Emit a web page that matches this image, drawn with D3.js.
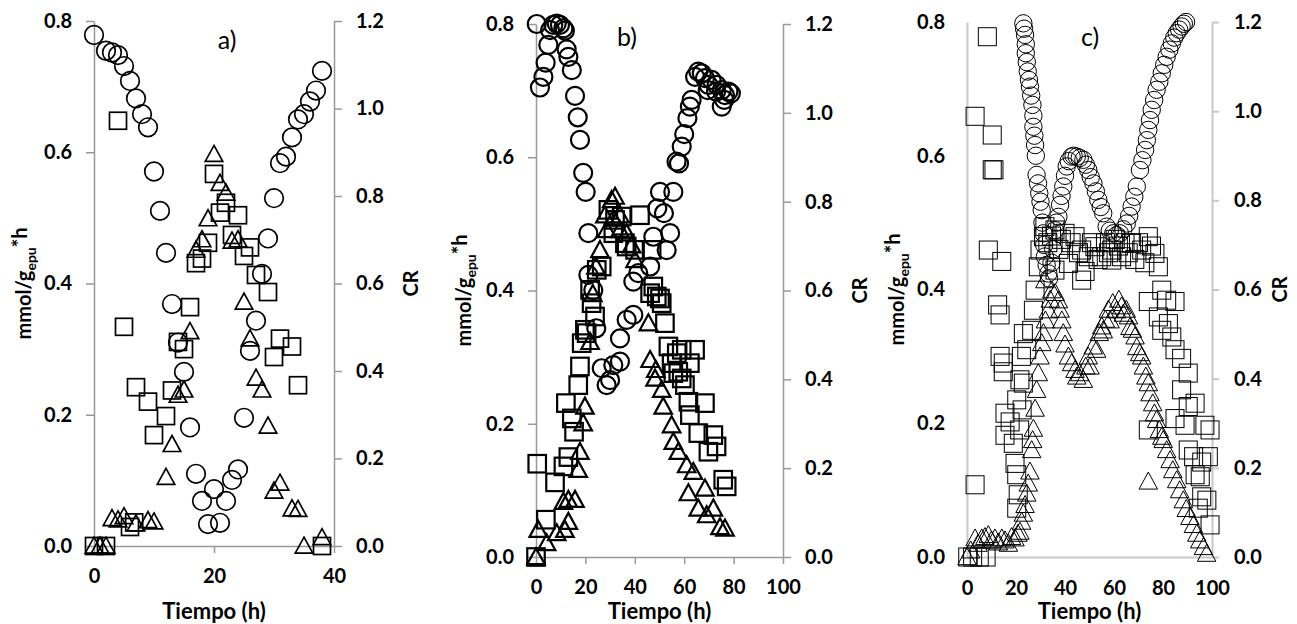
<!DOCTYPE html>
<html>
<head>
<meta charset="utf-8">
<script src="https://cdn.jsdelivr.net/npm/d3@7"></script>
<style>
  body { margin: 0; background: #fff; }
  svg { display: block; font-family: Lato, 'Open Sans', sans-serif; }
</style>
</head>
<body>
<svg id="chart" width="1297" height="624"></svg>
<script>
// ---- tick labels ----
const xTicksA = [0, 20, 40];
const xTicksBC = [0, 20, 40, 60, 80, 100];
const yLeftTicks = [0, 0.2, 0.4, 0.6, 0.8];
const yRightTicks = [0, 0.2, 0.4, 0.6, 0.8, 1.0, 1.2];

// ---- panel a) : [tiempo (h), valor] ----
const aCR = [[0,1.168],[2,1.132],[3,1.128],[4,1.122],[5,1.097],[6,1.063],[7,1.023],[8,0.987],[9,0.957],[10,0.856],
  [11,0.766],[12,0.670],[13,0.553],[14,0.465],[15,0.398],[16,0.271],[17,0.165],[18,0.103],[19,0.050],[20,0.130],
  [21,0.053],[22,0.103],[23,0.151],[24,0.175],[25,0.293],[26,0.446],[27,0.515],[28,0.622],[29,0.703],[30,0.795],
  [31,0.875],[32,0.890],[33,0.934],[34,0.975],[35,0.987],[36,1.016],[37,1.041],[38,1.086]];
const aSq = [[0,0],[2,0],[4,0.648],[5,0.334],[6,0.029],[6.7,0.036],[7,0.242],[9,0.220],[10,0.169],[12,0.198],[13,0.237],
  [14,0.311],[15,0.300],[16,0.364],[17,0.431],[18,0.438],[19,0.462],[20,0.567],[21,0.508],[22,0.523],[23,0.474],
  [24,0.504],[25,0.442],[26,0.455],[27,0.413],[29,0.387],[30,0.288],[31,0.316],[33,0.304],[34,0.245],[38,0]];
const aTri = [[0,0],[1,0],[2,0],[3,0.042],[4,0.040],[5,0.045],[7,0.034],[9,0.039],[10,0.037],[12,0.105],[13,0.155],
  [14,0.230],[15,0.238],[16,0.327],[17,0.451],[18,0.467],[19,0.499],[20,0.597],[21,0.553],[22,0.538],[23,0.465],
  [24,0.467],[25,0.372],[26,0.316],[27,0.256],[28,0.238],[29,0.183],[30,0.084],[31,0.096],[33,0.057],[34,0.056],
  [35,0],[38,0.013]];

// ---- panel b) ----
const bCR = [[0.3,1.200],[1.6,1.057],[3,1.081],[3.9,1.113],[5,1.153],[5.7,1.186],[7,1.198],[8.4,1.201],[9.7,1.198],
  [11.1,1.190],[11.7,1.185],[12.4,1.143],[13.1,1.126],[14.5,1.096],[15.8,1.038],[16.9,0.990],[17.8,0.939],
  [19.1,0.865],[20.1,0.822],[21.2,0.729],[21.2,0.635],[23.2,0.601],[24.4,0.515],[26.6,0.425],[28.6,0.387],
  [30,0.398],[31.3,0.432],[34,0.440],[34,0.492],[36.7,0.534],[39.4,0.545],[39.4,0.620],[41.4,0.639],[46.2,0.654],
  [47.5,0.721],[49.1,0.785],[50.2,0.822],[51.8,0.774],[52.9,0.691],[54.3,0.729],[55.6,0.822],[56.9,0.890],
  [57.9,0.886],[59,0.924],[60,0.952],[61.3,0.988],[62.3,1.014],[63,1.029],[64.4,1.081],[65.7,1.093],[67.1,1.089],
  [68.4,1.078],[69.5,1.051],[69.8,1.063],[71.1,1.074],[72.9,1.048],[73.1,1.063],[75.2,1.051],[75.2,1.014],
  [76.2,1.029],[76.5,1.040],[77.9,1.048],[78.9,1.044]];
const bSq = [[0,0],[0.5,0.140],[4,0.056],[7.7,0.112],[11.1,0.136],[13.1,0.150],[12.1,0.231],[14.5,0.208],[15.4,0.188],
  [17.1,0.258],[17.8,0.286],[18.5,0.321],[19.8,0.341],[20.5,0.336],[21.9,0.401],[22.5,0.381],[23.9,0.361],
  [24.6,0.431],[26.6,0.436],[29.3,0.521],[31.3,0.486],[32,0.506],[34.7,0.511],[36,0.471],[36.7,0.466],[40.1,0.461],
  [42.1,0.513],[46.2,0.396],[46.8,0.461],[47.5,0.406],[48.9,0.391],[50.2,0.388],[50.9,0.381],[52.2,0.351],
  [53.6,0.316],[54.9,0.291],[55.6,0.276],[57,0.306],[57.6,0.278],[59,0.311],[59,0.268],[60.3,0.258],[61.7,0.233],
  [62.3,0.291],[62.3,0.213],[64.4,0.311],[65.7,0.186],[68.4,0.231],[69.8,0.158],[71.8,0.183],[73.1,0.166],
  [75.8,0.116],[77.2,0.106]];
const bTri = [[0,0],[0.9,0.041],[4.3,0.021],[8.4,0.036],[11.7,0.041],[13.1,0.053],[11.1,0.083],[13.1,0.086],
  [15.8,0.086],[17.1,0.131],[17.8,0.158],[19.1,0.201],[19.8,0.226],[21.9,0.323],[23,0.395],[24.3,0.436],
  [25.9,0.461],[27.9,0.513],[28.6,0.491],[30.6,0.536],[31.3,0.508],[32,0.541],[34,0.513],[34,0.491],[36.7,0.486],
  [38.7,0.468],[40.1,0.446],[45.5,0.351],[46.2,0.296],[48.2,0.268],[48.5,0.281],[50.9,0.251],[51.5,0.226],
  [54.9,0.198],[55.6,0.173],[57.6,0.158],[61,0.138],[61.7,0.096],[63.7,0.128],[65.7,0.073],[68.4,0.103],
  [69.1,0.063],[71.8,0.073],[74.5,0.045],[76.5,0.043]];

// ---- panel c) ----
const cCR = [[23,1.197],[23.3,1.185],[23.7,1.171],[24,1.150],[24,1.130],[24.4,1.110],[24.8,1.089],[25.3,1.070],
  [25.7,1.055],[26.2,1.035],[26.7,1.014],[27.1,0.990],[27.1,0.965],[27.5,0.945],[27.8,0.924],[28.1,0.900],
  [28.4,0.857],[29,0.838],[29.5,0.816],[30,0.797],[30.5,0.778],[30.8,0.750],[31.2,0.726],[31.5,0.700],
  [31.8,0.674],[32.5,0.655],[33.2,0.636],[33.5,0.625],[34.5,0.660],[35.2,0.690],[35.9,0.733],[36.5,0.750],
  [37.3,0.763],[38,0.790],[38.6,0.810],[39.3,0.831],[40,0.855],[40.7,0.876],[41.5,0.888],[42.7,0.898],
  [43.5,0.900],[44.8,0.898],[46,0.895],[47.5,0.891],[48.5,0.880],[49.5,0.868],[50.5,0.852],[51.6,0.838],
  [52.6,0.820],[53.6,0.801],[54.6,0.785],[55.6,0.771],[57,0.741],[58.3,0.732],[59.7,0.726],[61,0.722],
  [62.4,0.726],[63.8,0.735],[65.2,0.748],[66.2,0.765],[67.2,0.786],[68.3,0.808],[69.3,0.831],[70.6,0.868],
  [71.6,0.890],[72.7,0.913],[73.4,0.935],[74,0.958],[74.7,0.980],[75.4,1.003],[76.4,1.025],[77.4,1.048],
  [78.5,1.066],[79.5,1.085],[80.5,1.104],[81.5,1.122],[82.6,1.138],[83.6,1.152],[84.6,1.165],[85.6,1.175],
  [86.6,1.183],[87.6,1.190],[88.5,1.196],[89.4,1.200]];
const cSq = [[0.3,0],[2.3,0],[5,0],[7.8,0],[3.3,0.108],[3.3,0.659],[8.3,0.778],[10.3,0.631],[10.3,0.579],[11,0.579],
  [8.7,0.459],[14.2,0.442],[12.5,0.377],[13.5,0.362],[13.5,0.300],[14.8,0.290],[14.8,0.277],[15.5,0.215],
  [17.6,0.202],[15.5,0.182],[18.9,0.170],[19.6,0.140],[20.3,0.123],[20.9,0.093],[20.3,0.073],[21.5,0.190],
  [20.3,0.235],[21.6,0.265],[22.2,0.300],[23,0.334],[22.5,0.220],[23,0.260],[24.4,0.310],[26.4,0.339],[27.1,0.369],
  [27.8,0.399],[29.1,0.434],[29.8,0.459],[31.2,0.479],[31.8,0.494],[33,0.470],[34.5,0.480],[35.9,0.489],
  [35.9,0.429],[37.5,0.460],[38.5,0.475],[40,0.484],[41.4,0.439],[42.5,0.470],[44.1,0.479],[45.5,0.455],
  [46.8,0.459],[46.8,0.414],[48.2,0.427],[49.5,0.449],[50.8,0.470],[52.2,0.464],[53.5,0.445],[55,0.449],
  [56.5,0.470],[57.8,0.455],[59.1,0.459],[59.1,0.444],[60.5,0.475],[61.8,0.465],[63.1,0.449],[64.5,0.470],
  [65.8,0.455],[67.2,0.469],[68.5,0.445],[70,0.470],[71.3,0.459],[72.6,0.440],[74,0.479],[75.3,0.465],
  [76.7,0.454],[78.1,0.434],[79.5,0.399],[81.5,0.384],[74,0.382],[84.9,0.382],[78.1,0.359],[82.2,0.349],
  [79.5,0.339],[83.6,0.329],[84.9,0.310],[87.6,0.297],[90.3,0.275],[74,0.190],[87.6,0.250],[90.3,0.225],
  [93.1,0.230],[89,0.197],[97.1,0.197],[84.9,0.207],[90.3,0.160],[95.8,0.142],[93.1,0.123],[95.8,0.090],
  [94.4,0.073],[99.2,0.048],[99.2,0.190],[98.5,0.150],[92.5,0.150],[95.2,0.120],[97.9,0.085]];
const cTri = [[0,0],[1.5,0.010],[3.3,0.028],[4.5,0.020],[6,0.028],[7.3,0.030],[8.7,0.033],[10,0.025],[11.4,0.028],
  [12.8,0.022],[14.2,0.028],[15.5,0.025],[16.9,0.020],[18.2,0.030],[19.6,0.028],[20.8,0.035],[21.6,0.038],
  [22.3,0.053],[23,0.065],[23.7,0.078],[24.4,0.095],[25,0.110],[25.7,0.128],[26.4,0.160],[26.8,0.175],
  [27.1,0.192],[27.8,0.222],[28.4,0.250],[29.1,0.275],[29.8,0.300],[30.5,0.320],[31.2,0.335],[32,0.354],
  [33.2,0.369],[34,0.385],[34.6,0.399],[31.8,0.414],[36,0.395],[37.3,0.384],[38,0.370],[38.7,0.354],
  [39.3,0.335],[40,0.318],[41.4,0.300],[42.7,0.290],[44.1,0.280],[44.8,0.270],[46,0.275],[47.5,0.265],
  [48.5,0.285],[49.5,0.300],[50.2,0.285],[51.5,0.315],[52.9,0.310],[54,0.335],[55,0.345],[55.6,0.339],
  [56.5,0.355],[57.7,0.370],[58.4,0.354],[59.5,0.380],[61.1,0.369],[62,0.385],[63.1,0.375],[63.8,0.364],
  [65,0.370],[65.9,0.360],[66.5,0.344],[67.5,0.340],[68.6,0.330],[69.3,0.314],[70.5,0.305],[71.3,0.300],
  [72,0.285],[73,0.270],[74,0.260],[74.7,0.245],[75.8,0.230],[76.5,0.215],[77.4,0.205],[78.5,0.190],
  [79.5,0.180],[80.1,0.175],[81.5,0.160],[82.9,0.145],[84,0.130],[85.6,0.115],[86.8,0.100],[88.3,0.085],
  [89.5,0.072],[91,0.060],[92.4,0.048],[93.8,0.035],[95,0.025],[96.5,0.015],[97.8,0.005],[74,0.113]];

// ---- layout of the three panels ----
const panels = [
  { id: 'a', cr: aCR, sq: aSq, tri: aTri, xDomain: [0, 40], xTicks: xTicksA,
    left: 94, right: 334, top: 21, bottom: 546, axisColor: '#999', axisWidth: 1.5,
    tickL: 8, tickR: 8, tickB: 7, markStroke: 1.7, r: 9.3, sqSize: 17, tw: 17.5, th: 16,
    label: 'a)', labelX: 227, labelY: 49, yTitleX: 31, crX: 418, xLabelGap: 23 },
  { id: 'b', cr: bCR, sq: bSq, tri: bTri, xDomain: [0, 100], xTicks: xTicksBC,
    left: 536, right: 783, top: 24, bottom: 557, axisColor: '#999', axisWidth: 1.5,
    tickL: 8, tickR: 8, tickB: 7, markStroke: 2.2, r: 9, sqSize: 17.5, tw: 17.5, th: 16,
    label: 'b)', labelX: 627, labelY: 46, yTitleX: 471, crX: 867, xLabelGap: 23 },
  { id: 'c', cr: cCR, sq: cSq, tri: cTri, xDomain: [0, 100], xTicks: xTicksBC,
    left: 967, right: 1212, top: 22, bottom: 557, axisColor: '#c8c8c8', axisWidth: 2,
    tickL: 0, tickR: 7, tickB: 0, markStroke: 1, r: 8.7, sqSize: 18, tw: 18.5, th: 17,
    label: 'c)', labelX: 1090, labelY: 46, yTitleX: 904, crX: 1287, xLabelGap: 24 }
];

const svg = d3.select('#chart');

function styleAxis(sel, p) {
  sel.attr('font-family', null).attr('font-size', null);
  sel.select('.domain').attr('stroke', p.axisColor).attr('stroke-width', p.axisWidth);
  sel.selectAll('.tick line').attr('stroke', p.axisColor).attr('stroke-width', p.axisWidth);
  sel.selectAll('.tick text')
    .attr('fill', '#000')
    .style('font-family', "Lato, 'Open Sans', sans-serif")
    .style('font-size', '20px')
    .style('font-weight', 'bold');
}

function drawPanel(p) {
  const x = d3.scaleLinear().domain(p.xDomain).range([p.left, p.right]);
  const yL = d3.scaleLinear().domain([0, 0.8]).range([p.bottom, p.top]);
  const yR = d3.scaleLinear().domain([0, 1.2]).range([p.bottom, p.top]);
  const g = svg.append('g').attr('class', 'panel-' + p.id);

  // Axes
  g.append('g')
    .attr('transform', `translate(${p.left},0)`)
    .call(d3.axisLeft(yL).tickValues(yLeftTicks).tickFormat(d3.format('.1f'))
      .tickSizeInner(p.tickL).tickSizeOuter(0).tickPadding(22 - p.tickL))
    .call(s => styleAxis(s, p));

  g.append('g')
    .attr('transform', `translate(${p.right},0)`)
    .call(d3.axisRight(yR).tickValues(yRightTicks).tickFormat(d3.format('.1f'))
      .tickSizeInner(p.tickR).tickSizeOuter(0).tickPadding(22 - p.tickR))
    .call(s => styleAxis(s, p));

  g.append('g')
    .attr('transform', `translate(0,${p.bottom})`)
    .call(d3.axisBottom(x).tickValues(p.xTicks).tickFormat(d3.format('d'))
      .tickSizeInner(p.tickB).tickSizeOuter(0).tickPadding(p.xLabelGap - p.tickB))
    .call(s => styleAxis(s, p));

  // Markers (hollow, black)
  const marks = g.append('g')
    .attr('fill', 'none')
    .attr('stroke', '#000')
    .attr('stroke-width', p.markStroke);

  marks.selectAll('rect')
    .data(p.sq)
    .join('rect')
    .attr('x', d => x(d[0]) - p.sqSize / 2)
    .attr('y', d => yL(d[1]) - p.sqSize / 2)
    .attr('width', p.sqSize)
    .attr('height', p.sqSize);

  const triPath = `M0,${-p.th * 0.55}L${p.tw / 2},${p.th * 0.45}L${-p.tw / 2},${p.th * 0.45}Z`;
  marks.selectAll('path.tri')
    .data(p.tri)
    .join('path')
    .attr('class', 'tri')
    .attr('d', triPath)
    .attr('transform', d => `translate(${x(d[0])},${yL(d[1])})`);

  marks.selectAll('circle')
    .data(p.cr)
    .join('circle')
    .attr('cx', d => x(d[0]))
    .attr('cy', d => yR(d[1]))
    .attr('r', p.r);

  // Panel letter
  g.append('text')
    .attr('x', p.labelX)
    .attr('y', p.labelY)
    .attr('text-anchor', 'middle')
    .style('font-size', '25px')
    .text(p.label);

  // Axis titles
  const midY = (p.top + p.bottom) / 2;
  const yt = g.append('text')
    .attr('transform', `translate(${p.yTitleX},${midY}) rotate(-90)`)
    .attr('text-anchor', 'middle')
    .style('font-size', '20px')
    .style('font-weight', 'bold');
  yt.append('tspan').text('mmol/g');
  yt.append('tspan').attr('dy', 5).style('font-size', '14px').text('epu');
  yt.append('tspan').attr('dy', -9).text('*h');

  g.append('text')
    .attr('transform', `translate(${p.crX},${midY}) rotate(-90)`)
    .attr('text-anchor', 'middle')
    .style('font-size', '20px')
    .style('font-weight', 'bold')
    .text('CR');

  g.append('text')
    .attr('x', (p.left + p.right) / 2)
    .attr('y', 619)
    .attr('text-anchor', 'middle')
    .style('font-size', '22px')
    .style('font-weight', 'bold')
    .text('Tiempo (h)');
}

panels.forEach(drawPanel);
</script>
</body>
</html>
